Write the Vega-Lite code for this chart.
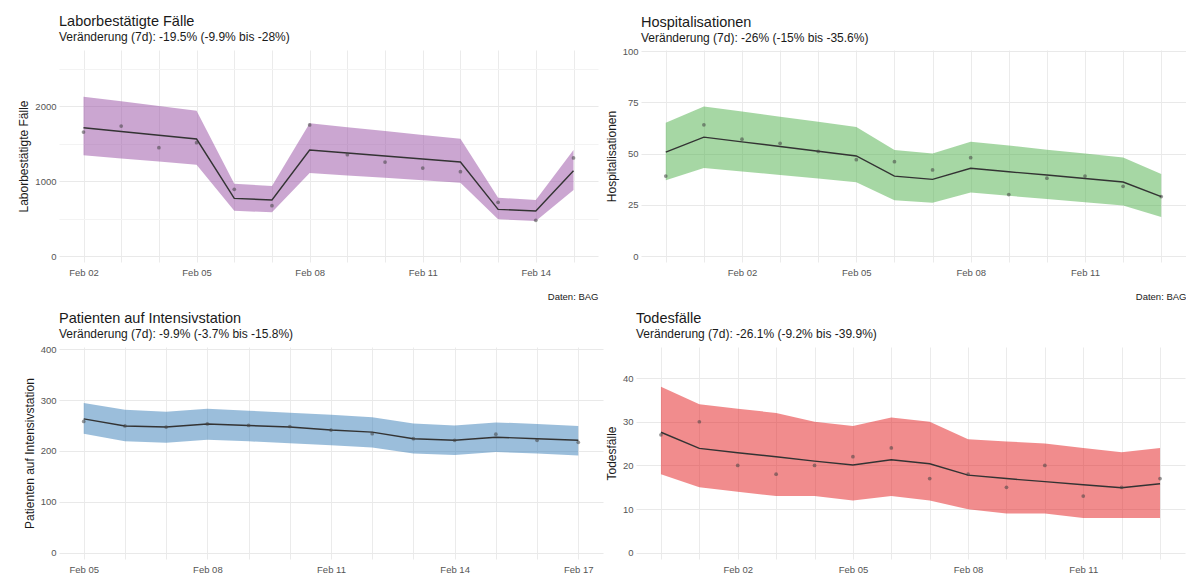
{
  "$schema": "https://vega.github.io/schema/vega-lite/v6.json",
  "padding": {"left": 17, "top": 13, "right": 0, "bottom": 0},
  "background": "white",
  "config": {
    "font": "Liberation Sans",
    "view": {"stroke": null},
    "axis": {
      "domain": false,
      "ticks": false,
      "labelColor": "#555555",
      "labelFontSize": 9.5,
      "titleFontSize": 12,
      "titleFontWeight": "normal",
      "titleColor": "#1a1a1a",
      "gridColor": "#ebebeb",
      "gridWidth": 1
    },
    "axisX": {"labelPadding": 5, "titleAnchor": "end", "titleFontSize": 9.5, "titlePadding": 15, "titleColor": "#1a1a1a"},
    "axisY": {"labelPadding": 3, "titlePadding": 4},
    "title": {
      "anchor": "start",
      "frame": "group",
      "fontSize": 14.5,
      "fontWeight": "normal",
      "color": "#1a1a1a",
      "subtitleFontSize": 12,
      "subtitleColor": "#1a1a1a",
      "subtitlePadding": 3,
      "offset": 6
    }
  },
  "columns": 2,
  "align": "none",
  "spacing": {"row": 9, "column": 2},
  "concat": [
    {
      "width": 539,
      "height": 212,
      "title": {"text": "Laborbestätigte Fälle", "subtitle": "Veränderung (7d): -19.5% (-9.9% bis -28%)"},
      "data": {"values": [
        {"date": "2021-02-02", "value": 1653, "fit": 1711, "lo": 1342, "hi": 2124},
        {"date": "2021-02-03", "value": 1733, "fit": 1661, "lo": 1301, "hi": 2062},
        {"date": "2021-02-04", "value": 1444, "fit": 1610, "lo": 1259, "hi": 2000},
        {"date": "2021-02-05", "value": 1511, "fit": 1560, "lo": 1218, "hi": 1938},
        {"date": "2021-02-06", "value": 889, "fit": 769, "lo": 604, "hi": 964},
        {"date": "2021-02-07", "value": 671, "fit": 747, "lo": 582, "hi": 933},
        {"date": "2021-02-08", "value": 1747, "fit": 1413, "lo": 1107, "hi": 1769},
        {"date": "2021-02-09", "value": 1351, "fit": 1373, "lo": 1075, "hi": 1718},
        {"date": "2021-02-10", "value": 1253, "fit": 1333, "lo": 1042, "hi": 1667},
        {"date": "2021-02-11", "value": 1173, "fit": 1293, "lo": 1010, "hi": 1615},
        {"date": "2021-02-12", "value": 1124, "fit": 1253, "lo": 978, "hi": 1564},
        {"date": "2021-02-13", "value": 716, "fit": 622, "lo": 489, "hi": 778},
        {"date": "2021-02-14", "value": 476, "fit": 600, "lo": 467, "hi": 747},
        {"date": "2021-02-15", "value": 1307, "fit": 1138, "lo": 880, "hi": 1413}
      ]},
      "encoding": {
        "x": {
          "field": "date", "type": "temporal",
          "scale": {"type": "utc", "domain": [1612167840000, 1613403360000]},
          "axis": {
            "title": "Daten: BAG",
            "values": [1612224000000, 1612310400000, 1612396800000, 1612483200000, 1612569600000, 1612656000000, 1612742400000, 1612828800000, 1612915200000, 1613001600000, 1613088000000, 1613174400000, 1613260800000, 1613347200000],
            "labelExpr": "(toNumber(utcFormat(datum.value, '%d')) - 2) % 3 === 0 ? utcFormat(datum.value, '%b %d') : ''"
          }
        }
      },
      "layer": [
        {
          "mark": {"type": "area", "color": "#984EA3", "opacity": 0.5},
          "encoding": {
            "y": {"field": "lo", "type": "quantitative", "title": "Laborbestätigte Fälle",
              "scale": {"domain": [-80, 2747], "nice": false, "zero": false},
              "axis": {"values": [0, 500, 1000, 1500, 2000, 2500], "format": "d",
                "labelExpr": "datum.value % 1000 === 0 ? datum.label : ''",
                "gridColor": {"condition": {"test": "datum.value % 1000 === 0", "value": "#e9e9e9"}, "value": "#f3f3f3"}}},
            "y2": {"field": "hi"}
          }
        },
        {
          "mark": {"type": "line", "color": "#333333", "strokeWidth": 1.4},
          "encoding": {"y": {"field": "fit", "type": "quantitative", "title": "Laborbestätigte Fälle"}}
        },
        {
          "mark": {"type": "point", "filled": true, "color": "#444444", "opacity": 0.55, "size": 14},
          "encoding": {"y": {"field": "value", "type": "quantitative", "title": "Laborbestätigte Fälle"}}
        }
      ]
    },
    {
      "width": 545,
      "height": 212,
      "title": {"text": "Hospitalisationen", "subtitle": "Veränderung (7d): -26% (-15% bis -35.6%)", "offset": 1},
      "data": {"values": [
        {"date": "2021-01-31", "value": 39, "fit": 50.7, "lo": 37, "hi": 65},
        {"date": "2021-02-01", "value": 64, "fit": 58, "lo": 43, "hi": 73},
        {"date": "2021-02-02", "value": 57, "fit": 55.7, "lo": 41.3, "hi": 70.5},
        {"date": "2021-02-03", "value": 55, "fit": 53.4, "lo": 39.5, "hi": 68},
        {"date": "2021-02-04", "value": 51, "fit": 51.1, "lo": 37.8, "hi": 65.5},
        {"date": "2021-02-05", "value": 47, "fit": 48.8, "lo": 36, "hi": 63},
        {"date": "2021-02-06", "value": 46, "fit": 39, "lo": 27.2, "hi": 51.7},
        {"date": "2021-02-07", "value": 42, "fit": 37.4, "lo": 26, "hi": 50},
        {"date": "2021-02-08", "value": 48, "fit": 42.8, "lo": 31, "hi": 55.8},
        {"date": "2021-02-09", "value": 30, "fit": 41.1, "lo": 29.4, "hi": 53.9},
        {"date": "2021-02-10", "value": 38, "fit": 39.5, "lo": 27.8, "hi": 51.9},
        {"date": "2021-02-11", "value": 39, "fit": 37.8, "lo": 26.3, "hi": 50},
        {"date": "2021-02-12", "value": 34, "fit": 36.1, "lo": 24.7, "hi": 48.1},
        {"date": "2021-02-13", "value": 29, "fit": 29, "lo": 19, "hi": 40}
      ]},
      "encoding": {
        "x": {
          "field": "date", "type": "temporal",
          "scale": {"type": "utc", "domain": [1611995040000, 1613230560000]},
          "axis": {
            "title": "Daten: BAG",
            "values": [1612051200000, 1612137600000, 1612224000000, 1612310400000, 1612396800000, 1612483200000, 1612569600000, 1612656000000, 1612742400000, 1612828800000, 1612915200000, 1613001600000, 1613088000000, 1613174400000],
            "labelExpr": "(toNumber(utcFormat(datum.value, '%d')) - 2) % 3 === 0 ? utcFormat(datum.value, '%b %d') : ''"
          }
        }
      },
      "layer": [
        {
          "mark": {"type": "area", "color": "#4DAF4A", "opacity": 0.5},
          "encoding": {
            "y": {"field": "lo", "type": "quantitative", "title": "Hospitalisationen",
              "scale": {"domain": [-2.9, 100.5], "nice": false, "zero": false},
              "axis": {"values": [0, 12.5, 25, 37.5, 50, 62.5, 75, 87.5, 100],
                "labelExpr": "datum.value % 25 === 0 ? datum.label : ''",
                "gridColor": {"condition": {"test": "datum.value % 25 === 0", "value": "#e9e9e9"}, "value": "#f3f3f3"}}},
            "y2": {"field": "hi"}
          }
        },
        {
          "mark": {"type": "line", "color": "#333333", "strokeWidth": 1.4},
          "encoding": {"y": {"field": "fit", "type": "quantitative", "title": "Hospitalisationen"}}
        },
        {
          "mark": {"type": "point", "filled": true, "color": "#444444", "opacity": 0.55, "size": 14},
          "encoding": {"y": {"field": "value", "type": "quantitative", "title": "Hospitalisationen"}}
        }
      ]
    },
    {
      "width": 544,
      "height": 212,
      "title": {"text": "Patienten auf Intensivstation", "subtitle": "Veränderung (7d): -9.9% (-3.7% bis -15.8%)", "offset": 3},
      "data": {"values": [
        {"date": "2021-02-05", "value": 258, "fit": 263, "lo": 234, "hi": 294},
        {"date": "2021-02-06", "value": 249, "fit": 249, "lo": 219, "hi": 281},
        {"date": "2021-02-07", "value": 247, "fit": 247, "lo": 216, "hi": 277},
        {"date": "2021-02-08", "value": 253, "fit": 253, "lo": 222, "hi": 283},
        {"date": "2021-02-09", "value": 250, "fit": 250, "lo": 219, "hi": 279},
        {"date": "2021-02-10", "value": 248, "fit": 247, "lo": 215, "hi": 275},
        {"date": "2021-02-11", "value": 241, "fit": 241, "lo": 211, "hi": 271},
        {"date": "2021-02-12", "value": 234, "fit": 237, "lo": 207, "hi": 266},
        {"date": "2021-02-13", "value": 224, "fit": 224, "lo": 195, "hi": 254},
        {"date": "2021-02-14", "value": 221, "fit": 221, "lo": 192, "hi": 250},
        {"date": "2021-02-15", "value": 233, "fit": 227, "lo": 198, "hi": 256},
        {"date": "2021-02-16", "value": 221, "fit": 224, "lo": 195, "hi": 253},
        {"date": "2021-02-17", "value": 217, "fit": 221, "lo": 191, "hi": 249}
      ]},
      "encoding": {
        "x": {
          "field": "date", "type": "temporal",
          "scale": {"type": "utc", "domain": [1612431360000, 1613571840000]},
          "axis": {
            "title": "Daten: BAG",
            "titlePadding": 24,
            "values": [1612483200000, 1612569600000, 1612656000000, 1612742400000, 1612828800000, 1612915200000, 1613001600000, 1613088000000, 1613174400000, 1613260800000, 1613347200000, 1613433600000, 1613520000000],
            "labelExpr": "(toNumber(utcFormat(datum.value, '%d')) - 2) % 3 === 0 ? utcFormat(datum.value, '%b %d') : ''"
          }
        }
      },
      "layer": [
        {
          "mark": {"type": "area", "color": "#377EB8", "opacity": 0.5},
          "encoding": {
            "y": {"field": "lo", "type": "quantitative", "title": "Patienten auf Intensivstation",
              "scale": {"domain": [-12, 404], "nice": false, "zero": false},
              "axis": {"values": [0, 50, 100, 150, 200, 250, 300, 350, 400],
                "labelExpr": "datum.value % 100 === 0 ? datum.label : ''",
                "gridColor": {"condition": {"test": "datum.value % 100 === 0", "value": "#e9e9e9"}, "value": "#f3f3f3"}}},
            "y2": {"field": "hi"}
          }
        },
        {
          "mark": {"type": "line", "color": "#333333", "strokeWidth": 1.4},
          "encoding": {"y": {"field": "fit", "type": "quantitative", "title": "Patienten auf Intensivstation"}}
        },
        {
          "mark": {"type": "point", "filled": true, "color": "#444444", "opacity": 0.55, "size": 14},
          "encoding": {"y": {"field": "value", "type": "quantitative", "title": "Patienten auf Intensivstation"}}
        }
      ]
    },
    {
      "width": 549,
      "height": 212,
      "title": {"text": "Todesfälle", "subtitle": "Veränderung (7d): -26.1% (-9.2% bis -39.9%)"},
      "data": {"values": [
        {"date": "2021-01-31", "value": 27, "fit": 27.6, "lo": 18, "hi": 38},
        {"date": "2021-02-01", "value": 30, "fit": 23.9, "lo": 15, "hi": 34},
        {"date": "2021-02-02", "value": 20, "fit": 22.9, "lo": 14, "hi": 33},
        {"date": "2021-02-03", "value": 18, "fit": 22, "lo": 13, "hi": 32},
        {"date": "2021-02-04", "value": 20, "fit": 21, "lo": 13, "hi": 30},
        {"date": "2021-02-05", "value": 22, "fit": 20.1, "lo": 12, "hi": 29},
        {"date": "2021-02-06", "value": 24, "fit": 21.3, "lo": 13, "hi": 31},
        {"date": "2021-02-07", "value": 17, "fit": 20.4, "lo": 12, "hi": 30},
        {"date": "2021-02-08", "value": 18, "fit": 17.8, "lo": 10, "hi": 26},
        {"date": "2021-02-09", "value": 15, "fit": 17, "lo": 9, "hi": 25.5},
        {"date": "2021-02-10", "value": 20, "fit": 16.3, "lo": 9, "hi": 25},
        {"date": "2021-02-11", "value": 13, "fit": 15.6, "lo": 8, "hi": 24},
        {"date": "2021-02-12", "value": 15, "fit": 14.9, "lo": 8, "hi": 23},
        {"date": "2021-02-13", "value": 17, "fit": 15.8, "lo": 8, "hi": 24}
      ]},
      "encoding": {
        "x": {
          "field": "date", "type": "temporal",
          "scale": {"type": "utc", "domain": [1611995040000, 1613230560000]},
          "axis": {
            "title": "Daten: BAG",
            "titlePadding": 24,
            "values": [1612051200000, 1612137600000, 1612224000000, 1612310400000, 1612396800000, 1612483200000, 1612569600000, 1612656000000, 1612742400000, 1612828800000, 1612915200000, 1613001600000, 1613088000000, 1613174400000],
            "labelExpr": "(toNumber(utcFormat(datum.value, '%d')) - 2) % 3 === 0 ? utcFormat(datum.value, '%b %d') : ''"
          }
        }
      },
      "layer": [
        {
          "mark": {"type": "area", "color": "#E41A1C", "opacity": 0.5},
          "encoding": {
            "y": {"field": "lo", "type": "quantitative", "title": "Todesfälle",
              "scale": {"domain": [-1.4, 47.1], "nice": false, "zero": false},
              "axis": {"values": [0, 5, 10, 15, 20, 25, 30, 35, 40, 45],
                "labelExpr": "datum.value % 10 === 0 ? datum.label : ''",
                "gridColor": {"condition": {"test": "datum.value % 10 === 0", "value": "#e9e9e9"}, "value": "#f3f3f3"}}},
            "y2": {"field": "hi"}
          }
        },
        {
          "mark": {"type": "line", "color": "#333333", "strokeWidth": 1.4},
          "encoding": {"y": {"field": "fit", "type": "quantitative", "title": "Todesfälle"}}
        },
        {
          "mark": {"type": "point", "filled": true, "color": "#444444", "opacity": 0.55, "size": 14},
          "encoding": {"y": {"field": "value", "type": "quantitative", "title": "Todesfälle"}}
        }
      ]
    }
  ]
}
